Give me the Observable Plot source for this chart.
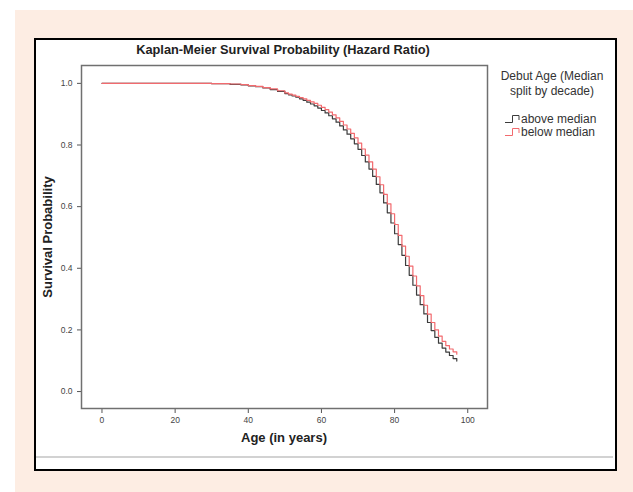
<!DOCTYPE html>
<html><head><meta charset="utf-8">
<script src="https://cdn.jsdelivr.net/npm/d3@7"></script>
<script src="https://cdn.jsdelivr.net/npm/@observablehq/plot@0.6"></script>
<style>
html,body{margin:0;padding:0;background:#fff;width:633px;height:492px;overflow:hidden;font-family:"Liberation Sans",Arial,sans-serif;}
#peach{position:absolute;left:15px;top:10px;width:618px;height:482px;background:#fdede3;}
#box{position:absolute;left:34px;top:38px;width:579px;height:429px;border:2px solid #000;background:#fff;}
#rule{position:absolute;left:0;top:416px;width:577px;height:2px;background:#d2d2d2;}
#chart{position:absolute;left:0;top:0;}
.t{position:absolute;white-space:nowrap;color:#222;}
#title{left:283px;top:43px;transform:translateX(-50%);font-size:12.8px;font-weight:bold;line-height:14px;}
#xlab{left:284px;top:431px;transform:translateX(-50%);font-size:13px;font-weight:bold;line-height:14px;}
#ylab{left:48px;top:237px;transform:translate(-50%,-50%) rotate(-90deg);font-size:13px;font-weight:bold;line-height:14px;}
#legtitle{left:552px;top:69px;transform:translateX(-50%);font-size:12px;line-height:15px;text-align:center;color:#333;}
.item{position:absolute;left:505px;height:12px;font-size:12px;line-height:12px;color:#333;white-space:nowrap;display:flex;align-items:center;}
.item svg{margin-right:1px;}
</style></head>
<body>
<div id="peach"></div>
<div id="box"><div id="rule"></div><div id="chart"></div></div>
<div class="t" id="title"></div>
<div class="t" id="xlab"></div>
<div class="t" id="ylab"></div>
<div class="t" id="legtitle"></div>
<div id="legend"></div>
<script>
// ---- data ----
const titleText = "Kaplan-Meier Survival Probability (Hazard Ratio)";
const xLabel = "Age (in years)";
const yLabel = "Survival Probability";
const legendTitle = ["Debut Age (Median", "split by decade)"];
const groups = ["above median", "below median"];
const groupColors = ["#3c3c3c", "#f26a6e"];
const xTicks = [0, 20, 40, 60, 80, 100];
const yTicks = [0.0, 0.2, 0.4, 0.6, 0.8, 1.0];

const ages = [0, 30, 35, 38, 40, 42, 44, 46, 48,
  50, 51, 52, 53, 54, 55, 56, 57, 58, 59,
  60, 61, 62, 63, 64, 65, 66, 67, 68, 69,
  70, 71, 72, 73, 74, 75, 76, 77, 78, 79,
  80, 81, 82, 83, 84, 85, 86, 87, 88, 89,
  90, 91, 92, 93, 94, 95, 96, 97];
const aboveMedian = [1.000, 0.999, 0.997, 0.995, 0.992, 0.989, 0.985, 0.980, 0.974,
  0.967, 0.963, 0.959, 0.955, 0.950, 0.945, 0.939, 0.933, 0.927, 0.920,
  0.912, 0.904, 0.895, 0.885, 0.874, 0.862, 0.849, 0.835, 0.820, 0.804,
  0.786, 0.766, 0.745, 0.722, 0.698, 0.672, 0.645, 0.612, 0.580, 0.547,
  0.512, 0.477, 0.442, 0.409, 0.377, 0.345, 0.313, 0.282, 0.252, 0.224,
  0.198, 0.176, 0.157, 0.141, 0.128, 0.117, 0.107, 0.099];
const belowMedian = [1.000, 0.999, 0.998, 0.996, 0.993, 0.990, 0.986, 0.982, 0.976,
  0.969, 0.965, 0.962, 0.958, 0.954, 0.950, 0.945, 0.940, 0.935, 0.929,
  0.922, 0.915, 0.907, 0.898, 0.888, 0.877, 0.865, 0.852, 0.838, 0.823,
  0.806, 0.787, 0.767, 0.745, 0.722, 0.697, 0.671, 0.640, 0.609, 0.577,
  0.542, 0.507, 0.472, 0.439, 0.407, 0.375, 0.343, 0.311, 0.280, 0.251,
  0.224, 0.200, 0.180, 0.163, 0.149, 0.138, 0.129, 0.121];

// ---- build ----
const rows = [];
ages.forEach((a, i) => {
  rows.push({age: a, s: aboveMedian[i], g: groups[0]});
});
ages.forEach((a, i) => {
  rows.push({age: a, s: belowMedian[i], g: groups[1]});
});

const plot = Plot.plot({
  width: 579, height: 416,
  marginLeft: 45, marginRight: 128, marginTop: 25, marginBottom: 48,
  style: {background: "transparent", color: "#444", fontSize: "8.5px", fontFamily: "Liberation Sans, Arial, sans-serif"},
  x: {domain: [-5.6, 105.4]},
  y: {domain: [-0.055, 1.058]},
  color: {domain: groups, range: groupColors},
  marks: [
    Plot.axisX({ticks: xTicks, tickSize: 5, tickPadding: 3, label: null, stroke: "#555"}),
    Plot.axisY({ticks: yTicks, tickSize: 4, tickPadding: 5, tickFormat: d3.format(".1f"), label: null, stroke: "#555"}),
    Plot.line(rows, {x: "age", y: "s", z: "g", stroke: "g", curve: "step-after", strokeWidth: 1.2}),
    Plot.frame({stroke: "#707070", strokeWidth: 1.5})
  ]
});
document.getElementById("chart").appendChild(plot);

document.getElementById("title").textContent = titleText;
document.getElementById("xlab").textContent = xLabel;
document.getElementById("ylab").textContent = yLabel;
document.getElementById("legtitle").innerHTML = legendTitle.join("<br>");

const leg = document.getElementById("legend");
groups.forEach((g, i) => {
  const d = document.createElement("div");
  d.className = "item";
  d.style.top = (113 + i * 13) + "px";
  d.innerHTML = `<svg width="15" height="10"><path d="M0,8.5H7.5V1.5H14V6" fill="none" stroke="${groupColors[i]}" stroke-width="1"/></svg>`;
  const s = document.createElement("span");
  s.textContent = g;
  d.appendChild(s);
  leg.appendChild(d);
});
</script>
</body></html>
